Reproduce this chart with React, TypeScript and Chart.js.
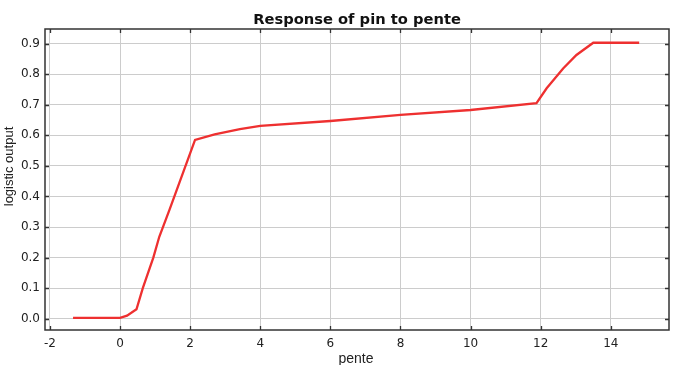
import { useEffect, useRef } from "react";
import { Chart, registerables } from "chart.js";

Chart.register(...registerables);

const penteValues = [-1.34, -0.5, 0, 0.2, 0.47, 0.65, 0.95, 1.12, 1.41, 2.14, 2.7, 3.42, 4, 6, 8, 10, 11.88, 12.17, 12.64, 13.02, 13.5, 14.81];
const outputValues = [0.003, 0.003, 0.003, 0.01, 0.031, 0.1, 0.2, 0.268, 0.356, 0.585, 0.603, 0.62, 0.631, 0.647, 0.667, 0.683, 0.705, 0.754, 0.819, 0.863, 0.903, 0.903];
const xTickValues = [-2, 0, 2, 4, 6, 8, 10, 12, 14];
const yTickValues = [0, 0.1, 0.2, 0.3, 0.4, 0.5, 0.6, 0.7, 0.8, 0.9];

const chartTitle = "Response of pin to pente";
const xTitle = "pente";
const yTitle = "logistic output";

const framePlugin = {
  id: "framePlugin",
  afterDraw(chart: any) {
    const { ctx, chartArea } = chart;
    const { left, right, top, bottom } = chartArea;
    const xs = chart.scales.x;
    const ys = chart.scales.y;
    ctx.save();
    ctx.strokeStyle = "#333333";
    ctx.lineWidth = 1.5;
    ctx.strokeRect(left, top, right - left, bottom - top);
    ctx.lineWidth = 1.3;
    ctx.beginPath();
    for (const v of xTickValues) {
      const px = Math.round(xs.getPixelForValue(v)) + 0.5;
      ctx.moveTo(px, bottom);
      ctx.lineTo(px, bottom - 4);
      ctx.moveTo(px, top);
      ctx.lineTo(px, top + 4);
    }
    for (const v of yTickValues) {
      const py = Math.round(ys.getPixelForValue(v)) + 0.5;
      ctx.moveTo(left, py);
      ctx.lineTo(left + 4, py);
      ctx.moveTo(right, py);
      ctx.lineTo(right - 4, py);
    }
    ctx.stroke();

    ctx.fillStyle = "#111111";
    ctx.textAlign = "center";
    ctx.textBaseline = "middle";
    ctx.font = "bold 14.7px 'DejaVu Sans'";
    ctx.fillText(chartTitle, (left + right) / 2, 20);

    ctx.fillStyle = "#222222";
    ctx.font = "14px 'Liberation Sans'";
    ctx.fillText(xTitle, (left + right) / 2 - 1, 359);

    ctx.translate(9, 166.5);
    ctx.rotate(-Math.PI / 2);
    ctx.font = "13px 'Liberation Sans'";
    ctx.fillText(yTitle, 0, 0);
    ctx.restore();
  },
};

export default function App() {
  const canvasRef = useRef<HTMLCanvasElement | null>(null);

  useEffect(() => {
    if (!canvasRef.current) return;
    const points = penteValues.map((x, i) => ({ x, y: outputValues[i] }));
    const chart = new Chart(canvasRef.current, {
      type: "line",
      data: {
        datasets: [
          {
            data: points,
            borderColor: "#ee3030",
            borderWidth: 2.3,
            pointRadius: 0,
            tension: 0,
            fill: false,
          },
        ],
      },
      options: {
        animation: false,
        responsive: true,
        maintainAspectRatio: false,
        layout: { padding: { top: 29, right: 8, left: 0, bottom: 0 } },
        plugins: {
          legend: { display: false },
          title: { display: false },
          tooltip: { enabled: false },
        },
        scales: {
          x: {
            type: "linear",
            min: -2.14,
            max: 15.66,
            afterBuildTicks: (axis: any) => {
              axis.ticks = xTickValues.map((v) => ({ value: v }));
            },
            afterFit: (axis: any) => {
              axis.height = 35;
            },
            grid: { color: "#cccccc", lineWidth: 1, drawTicks: false },
            border: { display: false },
            ticks: {
              padding: 7,
              color: "#222222",
              font: { family: "'DejaVu Sans'", size: 12 },
              maxRotation: 0,
              autoSkip: false,
              callback: (v: any) => String(v),
            },
          },
          y: {
            type: "linear",
            min: -0.037,
            max: 0.948,
            afterBuildTicks: (axis: any) => {
              axis.ticks = yTickValues.map((v) => ({ value: v }));
            },
            afterFit: (axis: any) => {
              axis.width = 45;
            },
            grid: { color: "#cccccc", lineWidth: 1, drawTicks: false },
            border: { display: false },
            ticks: {
              padding: 5,
              color: "#222222",
              font: { family: "'DejaVu Sans'", size: 12 },
              autoSkip: false,
              callback: (v: any) => Number(v).toFixed(1),
            },
          },
        },
      },
      plugins: [framePlugin],
    });
    return () => chart.destroy();
  }, []);

  return (
    <div style={{ position: "fixed", left: 0, top: 0, width: 677, height: 365, background: "#ffffff" }}>
      <canvas ref={canvasRef} />
    </div>
  );
}
